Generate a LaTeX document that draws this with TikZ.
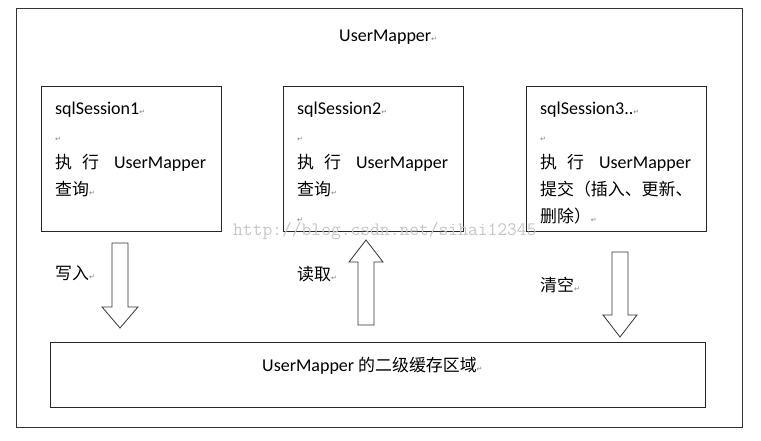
\documentclass[tikz,border=0pt]{standalone}
\usepackage{fontspec}
\setmainfont{Carlito}
\newfontfamily\cjk[Scale=0.94]{Noto Sans CJK SC}
\newfontfamily\markfont{DejaVu Sans}
\usepackage{tikz}
\usetikzlibrary{positioning}

\newcommand{\zh}[1]{{\cjk #1}}
\newcommand{\parmark}{{\markfont\fontsize{7}{7}\selectfont\textcolor{gray}{↵}}}
\newcommand{\runmapper}{\zh{执}\hspace{10pt}\zh{行}\hspace{15pt}UserMapper}

\begin{document}
\begin{tikzpicture}[x=1pt,y=-1pt,
    sessionbox/.style={draw=black!85, line width=0.8pt, minimum width=180pt, minimum height=145pt, inner sep=0pt, anchor=north west},
    lines/.style={align=left, inner sep=0pt, font=\fontsize{18}{27}\selectfont},
    hollow/.style={draw=black!80, line width=0.8pt, fill=white}]
    \useasboundingbox (0,0) rectangle (761,440);
    \draw[line width=0.8pt, color=black!80] (16,8) rectangle (742,427);
    \node[lines, anchor=west] (title) at (339,37) {UserMapper\parmark};
    % the three sessions
    \node[sessionbox] (s1) at (41,86) {};
    \node[sessionbox] (s2) at (283,86) {};
    \node[sessionbox] (s3) at (526,86) {};
    \node[lines, below right=16pt and 14pt of s1.north west] (t1) {sqlSession1\parmark\\ \parmark\\ \runmapper\\ \zh{查询}\parmark};
    \node[lines, below right=16pt and 14pt of s2.north west] (t2) {sqlSession2\parmark\\ \parmark\\ \runmapper\\ \zh{查询}\parmark\\ \parmark};
    \node[lines, below right=16pt and 14pt of s3.north west] (t3) {sqlSession3..\parmark\\ \parmark\\ \runmapper\\ \zh{提交（插入、更新、}\\ \zh{删除）}\parmark};
    % second level cache
    \node[draw=black!85, line width=0.8pt, minimum width=655pt, minimum height=65pt, inner sep=0pt, anchor=north west] (cache) at (50,342) {};
    \node[lines, anchor=west] (cachetext) at (262,366) {UserMapper \zh{的二级缓存区域}\parmark};
    % hollow arrows
    \draw[hollow] (112,243) -- (128,243) -- (128,307) -- (138,307) -- (120,328) -- (102,307) -- (112,307) -- cycle;
    \draw[hollow] (358,325) -- (374,325) -- (374,262) -- (383,262) -- (366,240) -- (349,262) -- (358,262) -- cycle;
    \draw[hollow] (612,252) -- (628,252) -- (628,315) -- (637,315) -- (620,337) -- (603,315) -- (612,315) -- cycle;
    \node[lines, anchor=west] (write) at (55,273) {\zh{写入}\parmark};
    \node[lines, anchor=west] (read) at (297,274) {\zh{读取}\parmark};
    \node[lines, anchor=west] (clear) at (540,285) {\zh{清空}\parmark};
    \node[font=\ttfamily\fontsize{19}{19}\selectfont, text=gray!45, inner sep=0pt, anchor=west] (watermark) at (233,231) {http://blog.csdn.net/sihai12345};
\end{tikzpicture}
\end{document}
